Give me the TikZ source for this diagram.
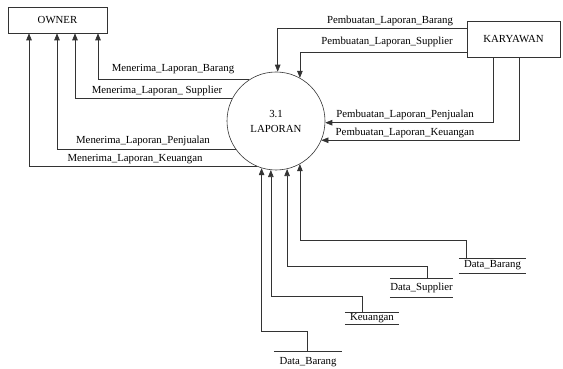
\documentclass[tikz,border=0pt]{standalone}
\usepackage{fontspec}
\setmainfont{Liberation Serif}
\usetikzlibrary{arrows.meta}
\tikzset{
  line/.style={draw=black!80,line width=.6pt},
  flow/.style={line,-{Triangle[length=7pt,width=5.5pt]}},
  ent/.style={line,rectangle,inner sep=0pt},
}
\begin{document}
\begin{tikzpicture}[x=1pt,y=-1pt,font=\fontsize{10.8}{15}\selectfont]
  \useasboundingbox (0,0) rectangle (563,369);
  \node[ent,minimum width=99pt,minimum height=26pt](owner)at(57.5,20){OWNER};
  \node[ent,minimum width=93pt,minimum height=36pt](kary)at(513.5,39){KARYAWAN};
  \node[line,circle,minimum size=98pt,inner sep=0pt,align=center](lap)at(276,121){3.1\\LAPORAN};
  \foreach \n/\a/\x/\lx/\ly/\t in {mb/123/98/173/69/Menerima\_Laporan\_Barang,ms/152/75/157/91/Menerima\_Laporan\_ Supplier,mp/215/57/143/141/Menerima\_Laporan\_Penjualan,mk/247/29/135/159/Menerima\_Laporan\_Keuangan}{
    \draw[flow](lap.\a)-|(owner.south-|\x,0);
    \node(\n)at(\lx,\ly){\t};
  }
  \foreach \n/\y/\a/\lx/\ly/\t in {pb/28/88/390/21/Pembuatan\_Laporan\_Barang,ps/52/61/387/42/Pembuatan\_Laporan\_Supplier}{
    \draw[flow](kary.west|-0,\y)-|(lap.\a);
    \node(\n)at(\lx,\ly){\t};
  }
  \foreach \n/\x/\a/\lx/\ly/\t in {pp/493/-2/405/115/Pembuatan\_Laporan\_Penjualan,pk/519/-23/405/133/Pembuatan\_Laporan\_Keuangan}{
    \draw[flow](kary.south-|\x,0)|-(lap.\a);
    \node(\n)at(\lx,\ly){\t};
  }
  \foreach \n/\cx/\cy/\w/\h/\px/\ey/\a/\t in {db/492.5/265.5/67/15/466/240/299/Data\_Barang,ds/421.5/287.5/63/19/427/266/283/Data\_Supplier,dk/372/318/54/12/362/296/264/Keuangan,dd/308/362/68/22/307/331/253/Data\_Barang}{
    \node[inner sep=0pt,minimum width=\w pt,minimum height=\h pt](\n)at(\cx,\cy){\t};
    \draw[line](\n.north west)--(\n.north east)(\n.south west)--(\n.south east);
    \draw[flow](\n.north-|\px,0)--(\px,\ey)-|(lap.\a);
  }
\end{tikzpicture}
\end{document}
